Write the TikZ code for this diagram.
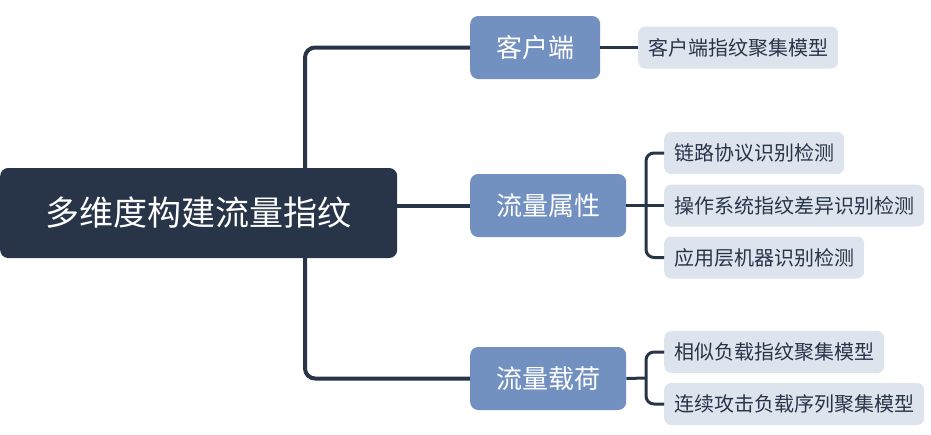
\documentclass[tikz,border=0pt]{standalone}
\usepackage{fontspec}
\setmainfont{Noto Sans CJK SC}
\usetikzlibrary{positioning}

\definecolor{navy}{HTML}{283448}
\definecolor{steel}{HTML}{7290C0}
\definecolor{mist}{HTML}{DDE4EE}

\tikzset{
	rootbox/.style={fill=navy,text=white,rounded corners=8pt,minimum width=397pt,minimum height=90pt,inner sep=0pt,font=\fontsize{34}{40}\selectfont},
	topicbox/.style={fill=steel,text=white,rounded corners=8pt,inner xsep=26pt,minimum height=63pt,font=\fontsize{26}{31}\selectfont},
	leafbox/.style={fill=mist,text=navy,rounded corners=7pt,inner xsep=10pt,minimum height=42pt,font=\fontsize{20}{24}\selectfont},
	trunk/.style={navy,line width=4pt,rounded corners=10pt},
	twig/.style={navy,line width=3pt,rounded corners=8pt},
}

\begin{document}
\begin{tikzpicture}[x=1pt,y=-1pt]
	\useasboundingbox (0,0) rectangle (931,434);
	
	\node[rootbox,anchor=west] (root) at (0,213) {多维度构建流量指纹};
	
	\node[topicbox,anchor=west] (khd) at (470,47.5) {客户端};
	\node[topicbox,anchor=west] (llsx) at (470,205.5) {流量属性};
	\node[topicbox,anchor=west] (llzh) at (470,378.5) {流量载荷};
	
	\node[leafbox,anchor=west] (khdzw) at (638,47.5) {客户端指纹聚集模型};
	\node[leafbox,anchor=west] (llxy) at (664,153) {链路协议识别检测};
	\node[leafbox,anchor=west] (czxt) at (664,205.5) {操作系统指纹差异识别检测};
	\node[leafbox,anchor=west] (yyjq) at (664,257.5) {应用层机器识别检测};
	\node[leafbox,anchor=west] (xsfz) at (664,352) {相似负载指纹聚集模型};
	\node[leafbox,anchor=west] (lxgj) at (664,404) {连续攻击负载序列聚集模型};
	
	% main branches
	\coordinate (stem) at (305,213);
	\draw[trunk] (khd.west) -| (stem |- root.north);
	\draw[trunk] (stem |- root.south) |- (llzh.west);
	\draw[trunk] (root.east |- llsx.west) -- (llsx.west);
	
	% sub branches
	\coordinate (sxfork) at (646,205.5);
	\coordinate (zhfork) at (646,378);
	\draw[twig] (khd.east) -- (khdzw.west);
	\draw[twig] (llsx.east) -- (czxt.west);
	\draw[twig] (llxy.west) -| (sxfork) |- (yyjq.west);
	\draw[twig] (llzh.east) -- (zhfork);
	\draw[twig] (xsfz.west) -| (zhfork) |- (lxgj.west);
\end{tikzpicture}
\end{document}
